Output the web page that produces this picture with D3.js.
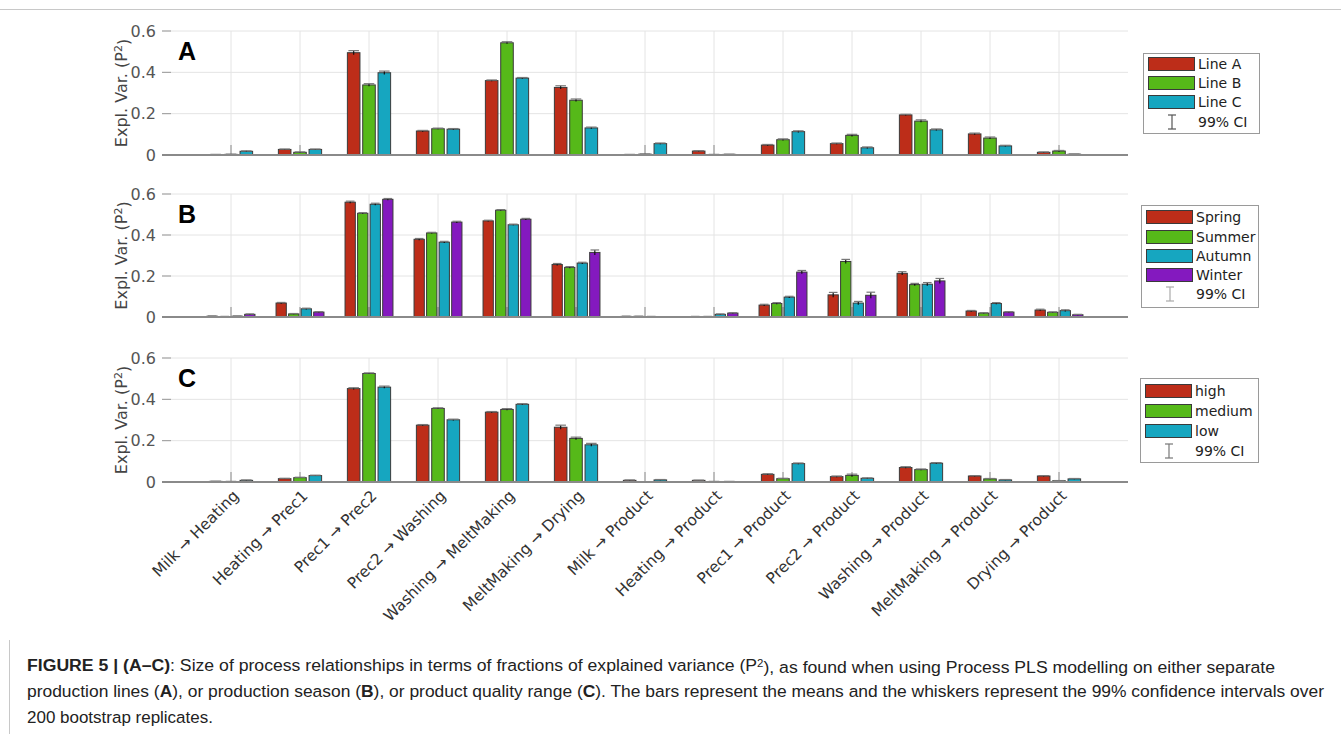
<!DOCTYPE html>
<html>
<head>
<meta charset="utf-8">
<script src="https://cdn.jsdelivr.net/npm/d3@7"></script>
<style>
  html, body { margin: 0; padding: 0; background: #fff; }
  svg { display: block; }
</style>
</head>
<body>
<svg id="chart" width="1341" height="734"></svg>
<script>
// ---------------- DATA ----------------
const categories = ["Milk \u2192 Heating", "Heating \u2192 Prec1", "Prec1 \u2192 Prec2", "Prec2 \u2192 Washing",
  "Washing \u2192 MeltMaking", "MeltMaking \u2192 Drying", "Milk \u2192 Product", "Heating \u2192 Product",
  "Prec1 \u2192 Product", "Prec2 \u2192 Product", "Washing \u2192 Product", "MeltMaking \u2192 Product", "Drying \u2192 Product"];

const yTicks = [0, 0.2, 0.4, 0.6];
const yTickLabels = ["0", "0.2", "0.4", "0.6"];

// Panel A: production lines
const namesA = ["Line A", "Line B", "Line C"];
const lineA = [0.002, 0.027, 0.495, 0.116, 0.360, 0.327, 0.002, 0.019, 0.048, 0.055, 0.194, 0.102, 0.013];
const lineB = [0.003, 0.013, 0.339, 0.127, 0.543, 0.265, 0.004, 0.002, 0.074, 0.095, 0.164, 0.082, 0.019];
const lineC = [0.018, 0.027, 0.398, 0.125, 0.372, 0.131, 0.055, 0.003, 0.113, 0.035, 0.122, 0.044, 0.004];
const errLineA = [0.001, 0.002, 0.010, 0.003, 0.003, 0.008, 0.001, 0.002, 0.003, 0.003, 0.003, 0.004, 0.002];
const errLineB = [0.001, 0.002, 0.006, 0.003, 0.005, 0.006, 0.001, 0.001, 0.004, 0.005, 0.006, 0.005, 0.003];
const errLineC = [0.002, 0.002, 0.008, 0.003, 0.003, 0.004, 0.003, 0.001, 0.004, 0.004, 0.004, 0.003, 0.001];

// Panel B: production season
const namesB = ["Spring", "Summer", "Autumn", "Winter"];
const spring = [0.004, 0.068, 0.560, 0.379, 0.469, 0.256, 0.003, 0.002, 0.058, 0.108, 0.213, 0.029, 0.034];
const summer = [0.002, 0.015, 0.506, 0.410, 0.521, 0.242, 0.003, 0.002, 0.066, 0.271, 0.158, 0.019, 0.023];
const autumn = [0.004, 0.040, 0.550, 0.365, 0.450, 0.263, 0.002, 0.013, 0.097, 0.068, 0.160, 0.066, 0.031];
const winter = [0.013, 0.024, 0.574, 0.463, 0.477, 0.315, 0.001, 0.019, 0.219, 0.106, 0.176, 0.024, 0.011];
const errSpring = [0.001, 0.003, 0.005, 0.004, 0.003, 0.005, 0.001, 0.001, 0.004, 0.012, 0.008, 0.003, 0.004];
const errSummer = [0.001, 0.002, 0.003, 0.003, 0.003, 0.004, 0.001, 0.001, 0.004, 0.010, 0.006, 0.002, 0.002];
const errAutumn = [0.001, 0.003, 0.005, 0.004, 0.003, 0.004, 0.001, 0.002, 0.004, 0.008, 0.008, 0.004, 0.004];
const errWinter = [0.002, 0.002, 0.004, 0.004, 0.004, 0.012, 0.001, 0.002, 0.008, 0.015, 0.012, 0.002, 0.002];

// Panel C: product quality range
const namesC = ["high", "medium", "low"];
const high   = [0.003, 0.016, 0.452, 0.275, 0.338, 0.265, 0.008, 0.008, 0.037, 0.026, 0.070, 0.029, 0.029];
const medium = [0.002, 0.021, 0.525, 0.356, 0.351, 0.211, 0.001, 0.002, 0.016, 0.032, 0.060, 0.015, 0.006];
const low    = [0.008, 0.031, 0.459, 0.301, 0.376, 0.180, 0.010, 0.002, 0.089, 0.018, 0.091, 0.010, 0.015];
const errHigh   = [0.001, 0.002, 0.004, 0.003, 0.003, 0.010, 0.002, 0.001, 0.003, 0.003, 0.004, 0.002, 0.002];
const errMedium = [0.001, 0.002, 0.003, 0.003, 0.004, 0.006, 0.001, 0.001, 0.002, 0.006, 0.003, 0.002, 0.001];
const errLow    = [0.002, 0.002, 0.005, 0.003, 0.003, 0.007, 0.002, 0.001, 0.003, 0.002, 0.003, 0.002, 0.002];

const colors = ["#bd2d19", "#56b919", "#16a6c0", "#8419bf"];

// ---------------- LAYOUT ----------------
const svg = d3.select("#chart");
const FONT = "'DejaVu Sans', sans-serif";

// frame lines
svg.append("line").attr("x1", 0).attr("x2", 1341).attr("y1", 9.5).attr("y2", 9.5)
  .attr("stroke", "#c8c8c8").attr("stroke-width", 1);
svg.append("line").attr("x1", 9.5).attr("x2", 9.5).attr("y1", 640).attr("y2", 734)
  .attr("stroke", "#c8c8c8").attr("stroke-width", 1);

const x = d3.scaleLinear().domain([0, 14]).range([162, 1128]);

const panels = [
  { letter: "A", series: [lineA, lineB, lineC], errs: [errLineA, errLineB, errLineC], names: namesA,
    y0: 155, y1: 31, legend: { x: 1143, y: 53, w: 116, h: 80, rowY: [64, 83, 102, 122], swX: 1148, txX: 1198, ciColor: "#555" } },
  { letter: "B", series: [spring, summer, autumn, winter], errs: [errSpring, errSummer, errAutumn, errWinter], names: namesB,
    y0: 317, y1: 194, legend: { x: 1141, y: 205, w: 117, h: 102, rowY: [217, 237, 256, 275, 294], swX: 1146, txX: 1196, ciColor: "#aaa" } },
  { letter: "C", series: [high, medium, low], errs: [errHigh, errMedium, errLow], names: namesC,
    y0: 482, y1: 358, legend: { x: 1140, y: 378, w: 118, h: 84, rowY: [391, 411, 431, 451], swX: 1145, txX: 1195, ciColor: "#777" } }
];

panels.forEach((p, pi) => {
  const y = d3.scaleLinear().domain([0, 0.6]).range([p.y0, p.y1]);
  const g = svg.append("g");

  // horizontal gridlines
  g.selectAll(".hg").data(yTicks.filter(t => t > 0)).enter().append("line")
    .attr("x1", x(0)).attr("x2", x(14)).attr("y1", d => y(d)).attr("y2", d => y(d))
    .attr("stroke", "#e4e4e4").attr("stroke-width", 1);
  // vertical gridlines
  g.selectAll(".vg").data(categories).enter().append("line")
    .attr("x1", (d, i) => x(i + 1)).attr("x2", (d, i) => x(i + 1))
    .attr("y1", y(0.6)).attr("y2", y(0))
    .attr("stroke", "#e4e4e4").attr("stroke-width", 1);
  // x tick marks (inward)
  g.selectAll(".xt").data(categories).enter().append("line")
    .attr("x1", (d, i) => x(i + 1)).attr("x2", (d, i) => x(i + 1))
    .attr("y1", y(0)).attr("y2", y(0) - 10)
    .attr("stroke", "#8a8a8a").attr("stroke-width", 1);
  // y tick marks
  g.selectAll(".yt").data(yTicks).enter().append("line")
    .attr("x1", x(0)).attr("x2", x(0) + 9).attr("y1", d => y(d)).attr("y2", d => y(d))
    .attr("stroke", "#999").attr("stroke-width", 1);
  // y tick labels
  g.selectAll(".yl").data(yTicks).enter().append("text")
    .attr("x", x(0) - 6).attr("y", d => y(d)).attr("dy", "0.36em")
    .attr("text-anchor", "end").attr("font-family", FONT).attr("font-size", 16)
    .attr("fill", "#555").text((d, i) => yTickLabels[i]);

  // bars
  const n = p.series.length;
  const groupW = Math.min(0.8, n / (n + 1.5));
  const pitch = groupW / n;
  const barW = pitch * 0.82;
  p.series.forEach((vals, j) => {
    const off = (j - (n - 1) / 2) * pitch;
    const sg = g.append("g");
    sg.selectAll("rect").data(vals).enter().append("rect")
      .attr("x", (d, i) => x(i + 1 + off - barW / 2))
      .attr("width", x(barW) - x(0))
      .attr("y", d => y(d))
      .attr("height", d => y(0) - y(d))
      .attr("fill", colors[j]).attr("stroke", "#3a3a3a").attr("stroke-width", 1);
    // error bars
    const errs = p.errs[j];
    const capHalf = (x(barW) - x(0)) * 0.42;
    sg.selectAll(".eb").data(vals).enter().append("line")
      .attr("x1", (d, i) => x(i + 1 + off)).attr("x2", (d, i) => x(i + 1 + off))
      .attr("y1", (d, i) => y(Math.max(0, d - errs[i]))).attr("y2", (d, i) => y(d + errs[i]))
      .attr("stroke", "#111").attr("stroke-width", 1.2);
    sg.selectAll(".ec").data(vals).enter().append("line")
      .attr("x1", (d, i) => x(i + 1 + off) - capHalf).attr("x2", (d, i) => x(i + 1 + off) + capHalf)
      .attr("y1", (d, i) => y(d + errs[i])).attr("y2", (d, i) => y(d + errs[i]))
      .attr("stroke", "#777").attr("stroke-width", 1.2);
  });

  // bottom axis line
  g.append("line").attr("x1", x(0)).attr("x2", x(14)).attr("y1", y(0)).attr("y2", y(0))
    .attr("stroke", "#8a8a8a").attr("stroke-width", 2);

  // panel letter
  g.append("text").attr("x", 178).attr("y", p.y1 + 29)
    .attr("font-family", "'Liberation Sans', Arial, sans-serif").attr("font-weight", "bold")
    .attr("font-size", 25).attr("fill", "#000").text(p.letter);

  // y label
  const yl = g.append("text")
    .attr("transform", `translate(127,${(p.y0 + p.y1) / 2}) rotate(-90)`)
    .attr("text-anchor", "middle").attr("font-family", FONT).attr("font-size", 16).attr("fill", "#444");
  yl.append("tspan").text("Expl. Var. (P");
  yl.append("tspan").attr("dy", "-0.45em").attr("font-size", 11).text("2");
  yl.append("tspan").attr("dy", "0.45em").text(")");

  // legend
  const L = p.legend;
  const lg = g.append("g");
  lg.append("rect").attr("x", L.x + 0.5).attr("y", L.y + 0.5).attr("width", L.w).attr("height", L.h)
    .attr("fill", "#fff").attr("stroke", "#9a9a9a").attr("stroke-width", 1);
  p.names.forEach((nm, j) => {
    lg.append("rect").attr("x", L.swX + 0.5).attr("y", L.rowY[j] - 6.5).attr("width", 46).attr("height", 13)
      .attr("fill", colors[j]).attr("stroke", "#3a3a3a").attr("stroke-width", 1);
    lg.append("text").attr("x", L.txX).attr("y", L.rowY[j]).attr("dy", "0.36em")
      .attr("font-family", FONT).attr("font-size", 14).attr("fill", "#222").text(nm);
  });
  const cy = L.rowY[p.names.length];
  const cx = L.swX + 24;
  lg.append("line").attr("x1", cx).attr("x2", cx).attr("y1", cy - 7).attr("y2", cy + 7)
    .attr("stroke", L.ciColor).attr("stroke-width", 1.2);
  lg.append("line").attr("x1", cx - 4).attr("x2", cx + 4).attr("y1", cy - 7).attr("y2", cy - 7)
    .attr("stroke", L.ciColor).attr("stroke-width", 1.2);
  lg.append("line").attr("x1", cx - 4).attr("x2", cx + 4).attr("y1", cy + 7).attr("y2", cy + 7)
    .attr("stroke", L.ciColor).attr("stroke-width", 1.2);
  lg.append("text").attr("x", L.txX).attr("y", cy).attr("dy", "0.36em")
    .attr("font-family", FONT).attr("font-size", 14).attr("fill", "#222").text("99% CI");

  // x labels only under the last panel
  if (pi === 2) {
    g.selectAll(".xl").data(categories).enter().append("text")
      .attr("transform", (d, i) => `translate(${x(i + 1) + 1},${p.y0 + 7}) rotate(-45)`)
      .attr("text-anchor", "end").attr("dy", "0.7em")
      .attr("font-family", FONT).attr("font-size", 15.5).attr("fill", "#333").text(d => d);
  }
});

// ---------------- CAPTION ----------------
const CAPFONT = "'Liberation Sans', Arial, sans-serif";
function capLine(yPos, targetW, parts) {
  const t = svg.append("text").attr("x", 0).attr("y", 0)
    .attr("font-family", CAPFONT).attr("font-size", 17).attr("fill", "#222");
  parts.forEach(pt => {
    const s = t.append("tspan").text(pt.t);
    if (pt.b) s.attr("font-weight", "bold");
    if (pt.sup) s.attr("dy", "-0.4em").attr("font-size", 11);
    if (pt.unsup) s.attr("dy", "0.4em");
  });
  const w = t.node().getComputedTextLength();
  t.attr("transform", `translate(27,${yPos}) scale(${targetW / w},1)`);
}
capLine(671, 1249, [
  { t: "FIGURE 5 | (A\u2013C)", b: true },
  { t: ": Size of process relationships in terms of fractions of explained variance (P" },
  { t: "2", sup: true },
  { t: "), as found when using Process PLS modelling on either separate", unsup: true }
]);
capLine(697, 1298, [
  { t: "production lines (" }, { t: "A", b: true }, { t: "), or production season (" }, { t: "B", b: true },
  { t: "), or product quality range (" }, { t: "C", b: true },
  { t: "). The bars represent the means and the whiskers represent the 99% confidence intervals over" }
]);
capLine(723, 186, [{ t: "200 bootstrap replicates." }]);
</script>
</body>
</html>
